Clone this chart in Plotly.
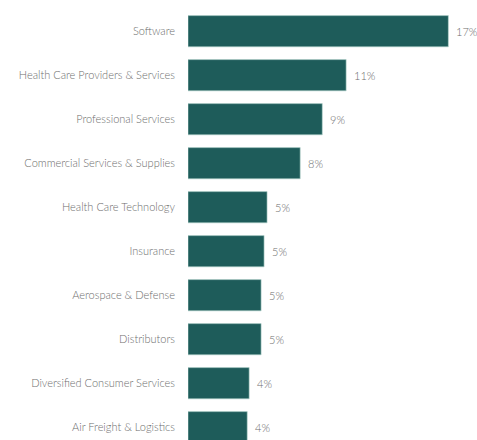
import plotly.graph_objects as go

categories = ["Software", "Health Care Providers & Services", "Professional Services",
              "Commercial Services & Supplies", "Health Care Technology", "Insurance",
              "Aerospace & Defense", "Distributors", "Diversified Consumer Services",
              "Air Freight & Logistics"]
values = [17.45, 10.6, 9.0, 7.52, 5.3, 5.1, 4.9, 4.9, 4.1, 3.97]
labels = ["17%", "11%", "9%", "8%", "5%", "5%", "5%", "5%", "4%", "4%"]

font_family = "Lato, 'Open Sans', sans-serif"
text_color = "#6e6e6e"

fig = go.Figure(go.Bar(
    x=values, y=categories, orientation="h",
    marker=dict(color="#1e5c5a", line=dict(color="#b9d6d0", width=0.6)),
    width=0.71,
    hoverinfo="skip",
))

for c, v, t in zip(categories, values, labels):
    fig.add_annotation(x=v, y=c, text=t, xanchor="left", yanchor="middle",
                       xshift=6, showarrow=False,
                       font=dict(family=font_family, size=11, color=text_color, weight=300))

fig.update_layout(
    width=477, height=440,
    margin=dict(l=188, r=0, t=0, b=0),
    paper_bgcolor="white", plot_bgcolor="white",
    showlegend=False,
    xaxis=dict(range=[0, 19.37], visible=False, fixedrange=True),
    yaxis=dict(range=[9.29, -0.71], type="category", showgrid=False, zeroline=False,
               showline=False, ticks="", ticklabelstandoff=12,
               tickfont=dict(family=font_family, size=11, color=text_color, weight=300),
               fixedrange=True),
    font=dict(family=font_family, size=11, color=text_color),
)

fig.write_html("out.html", config={"displayModeBar": False})
